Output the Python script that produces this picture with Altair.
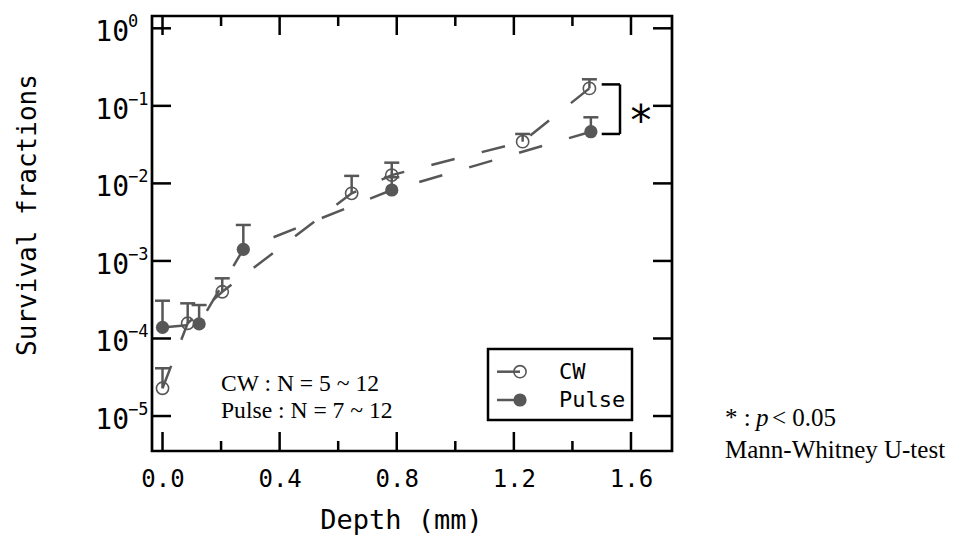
import altair as alt
import pandas as pd

# ---------------- data ----------------
cw_depth = [0.0, 0.086, 0.204, 0.646, 0.783, 1.230, 1.458]
cw_mean = [2.28e-5, 1.57e-4, 4.0e-4, 7.45e-3, 1.28e-2, 3.45e-2, 0.168]
cw_upper = [4.13e-5, 2.84e-4, 5.97e-4, 1.25e-2, 1.85e-2, 4.34e-2, 0.22]

pulse_depth = [0.0, 0.125, 0.276, 0.783, 1.463]
pulse_mean = [1.39e-4, 1.54e-4, 1.41e-3, 8.22e-3, 4.64e-2]
pulse_upper = [3.07e-4, 2.70e-4, 2.91e-3, 1.20e-2, 7.12e-2]

x_major = [0.0, 0.4, 0.8, 1.2, 1.6]
x_minor = [0.2, 0.6, 1.0, 1.4]
y_decades = [1.0, 1e-1, 1e-2, 1e-3, 1e-4, 1e-5]
y_exponents = ["0", "\u22121", "\u22122", "\u22123", "\u22124", "\u22125"]

legend_labels = ["CW", "Pulse"]
bracket_x = [1.50, 1.5625]
bracket_y = [0.189, 0.0434]

note_lines = ["CW : N = 5 ~ 12", "Pulse : N = 7 ~ 12"]
stat_lines = ["* :", "p", "< 0.05", "Mann-Whitney U-test"]

# ---------------- styling ----------------
W, H = 520, 435
GRAY = "#575757"
MONO = "DejaVu Sans Mono"
SERIF = "Liberation Serif"
LW = 2.5

xs = alt.Scale(domain=[-0.0359, 1.7401], nice=False, zero=False)
ys = alt.Scale(type="log", domain=[3.54e-6, 1.441], nice=False)

xaxis = alt.Axis(
    values=x_major, format=".1f", ticks=False, tickSize=0, domain=False, grid=False,
    labelFont=MONO, labelFontSize=24, labelColor="black", labelPadding=16,
    labelFlush=False, labelOverlap=False,
    title="Depth (mm)", titleFont=MONO, titleFontSize=27, titleFontWeight="normal",
    titleColor="black", titleX=249, titleY=77, titleBaseline="alphabetic", titleAlign="center",
)
yaxis = alt.Axis(
    labels=False, ticks=False, tickSize=0, domain=False, grid=False,
    title="Survival fractions", titleFont=MONO, titleFontSize=26, titleFontWeight="normal",
    titleColor="black", titleAngle=270, titleX=-117, titleY=198.5,
    titleAlign="center", titleBaseline="alphabetic",
)


def X(f="x"):
    return alt.X(f"{f}:Q", scale=xs, axis=xaxis)


def Y(f="y"):
    return alt.Y(f"{f}:Q", scale=ys, axis=yaxis)


cw = pd.DataFrame({"x": cw_depth, "y": cw_mean, "y2": cw_upper})
pulse = pd.DataFrame({"x": pulse_depth, "y": pulse_mean, "y2": pulse_upper})
xmaj = pd.DataFrame({"x": x_major})
xmin = pd.DataFrame({"x": x_minor})
ydec = pd.DataFrame({"y": y_decades, "exp": y_exponents})
one = pd.DataFrame({"a": [0]})

layers = []

# frame ticks (inward)
for df, L in ((xmaj, 19), (xmin, 10)):
    layers.append(alt.Chart(df).mark_rule(color="black", strokeWidth=LW).encode(
        x=X(), y=alt.value(H), y2=alt.value(H - L)))
    layers.append(alt.Chart(df).mark_rule(color="black", strokeWidth=LW).encode(
        x=X(), y=alt.value(0), y2=alt.value(L)))
layers.append(alt.Chart(ydec).mark_rule(color="black", strokeWidth=LW).encode(
    y=Y(), x=alt.value(0), x2=alt.value(19)))
layers.append(alt.Chart(ydec).mark_rule(color="black", strokeWidth=LW).encode(
    y=Y(), x=alt.value(W - 19), x2=alt.value(W)))

# y tick labels 10^n
layers.append(alt.Chart(ydec).mark_text(font=MONO, fontSize=28, align="right",
                                        baseline="alphabetic", dy=13, color="black").encode(
    y=Y(), x=alt.value(-23), text=alt.value("10")))
layers.append(alt.Chart(ydec).mark_text(font=MONO, fontSize=17, align="left",
                                        baseline="alphabetic", dy=-1, color="black").encode(
    y=Y(), x=alt.value(-24), text="exp:N"))

# dashed connecting lines
for df in (cw, pulse):
    layers.append(alt.Chart(df).mark_line(color=GRAY, strokeWidth=LW, strokeDash=[24, 28]).encode(
        x=X(), y=Y()))

# error bars (upper only) with caps
for df in (cw, pulse):
    layers.append(alt.Chart(df).mark_rule(color=GRAY, strokeWidth=LW).encode(
        x=X(), y=Y(), y2="y2:Q"))
    layers.append(alt.Chart(df).mark_tick(orient="horizontal", size=15, thickness=LW,
                                          color=GRAY, opacity=1).encode(x=X(), y=Y("y2")))

# points
layers.append(alt.Chart(cw).mark_point(shape="circle", filled=False, size=150, strokeWidth=1.6,
                                       color=GRAY, opacity=1).encode(x=X(), y=Y()))
layers.append(alt.Chart(pulse).mark_point(shape="circle", filled=True, size=175,
                                          color=GRAY, opacity=1).encode(x=X(), y=Y()))

# significance bracket
br = pd.DataFrame({
    "x": [bracket_x[0], bracket_x[1], bracket_x[0]],
    "x2": [bracket_x[1], bracket_x[1], bracket_x[1]],
    "y": [bracket_y[0], bracket_y[0], bracket_y[1]],
    "y2": [bracket_y[0], bracket_y[1], bracket_y[1]],
})
layers.append(alt.Chart(br).mark_rule(color="black", strokeWidth=LW).encode(
    x=X(), x2="x2:Q", y=Y(), y2="y2:Q"))
layers.append(alt.Chart(one).mark_text(text="*", font=MONO, fontSize=42, align="center",
                                       baseline="alphabetic", color="black").encode(
    x=alt.value(489), y=alt.value(119)))

# legend box
layers.append(alt.Chart(one).mark_rect(fill="white", stroke="black", strokeWidth=LW).encode(
    x=alt.value(336), x2=alt.value(480), y=alt.value(333), y2=alt.value(404)))
for i, (lab, yy) in enumerate(zip(legend_labels, [355.7, 384])):
    layers.append(alt.Chart(one).mark_rule(color=GRAY, strokeWidth=LW).encode(
        x=alt.value(345), x2=alt.value(368), y=alt.value(yy)))
    if i == 0:
        layers.append(alt.Chart(one).mark_point(shape="circle", filled=False, size=150,
                                                strokeWidth=1.6, color=GRAY, opacity=1).encode(
            x=alt.value(368), y=alt.value(yy)))
    else:
        layers.append(alt.Chart(one).mark_point(shape="circle", filled=True, size=175,
                                                color=GRAY, opacity=1).encode(
            x=alt.value(368), y=alt.value(yy)))
    layers.append(alt.Chart(one).mark_text(text=lab, font=MONO, fontSize=22, align="left",
                                           baseline="middle", color="black").encode(
        x=alt.value(407), y=alt.value(yy)))

# N annotation
for txt, yy in zip(note_lines, [374.7, 402.3]):
    layers.append(alt.Chart(one).mark_text(text=txt, font=SERIF, fontSize=23.6, align="left",
                                           baseline="alphabetic", color="black").encode(
        x=alt.value(69), y=alt.value(yy)))

# statistics note (right, outside plot)
SF = 25
layers.append(alt.Chart(one).mark_text(text=stat_lines[0], font=SERIF, fontSize=SF, align="left",
                                       baseline="alphabetic", color="black").encode(
    x=alt.value(573), y=alt.value(410)))
layers.append(alt.Chart(one).mark_text(text=stat_lines[1], font=SERIF, fontSize=SF, fontStyle="italic",
                                       align="left", baseline="alphabetic", color="black").encode(
    x=alt.value(604), y=alt.value(410)))
layers.append(alt.Chart(one).mark_text(text=stat_lines[2], font=SERIF, fontSize=SF, align="left",
                                       baseline="alphabetic", color="black").encode(
    x=alt.value(620), y=alt.value(410)))
layers.append(alt.Chart(one).mark_text(text=stat_lines[3], font=SERIF, fontSize=SF, align="left",
                                       baseline="alphabetic", color="black").encode(
    x=alt.value(573), y=alt.value(442)))

chart = alt.layer(*layers).properties(
    width=W, height=H,
    autosize=alt.AutoSizeParams(type="none"),
    padding={"left": 144, "top": 8, "right": 282, "bottom": 84},
    background="white",
).configure_view(stroke="black", strokeWidth=2.7)

chart.save("out.html", embed_options={"renderer": "svg", "actions": False})
